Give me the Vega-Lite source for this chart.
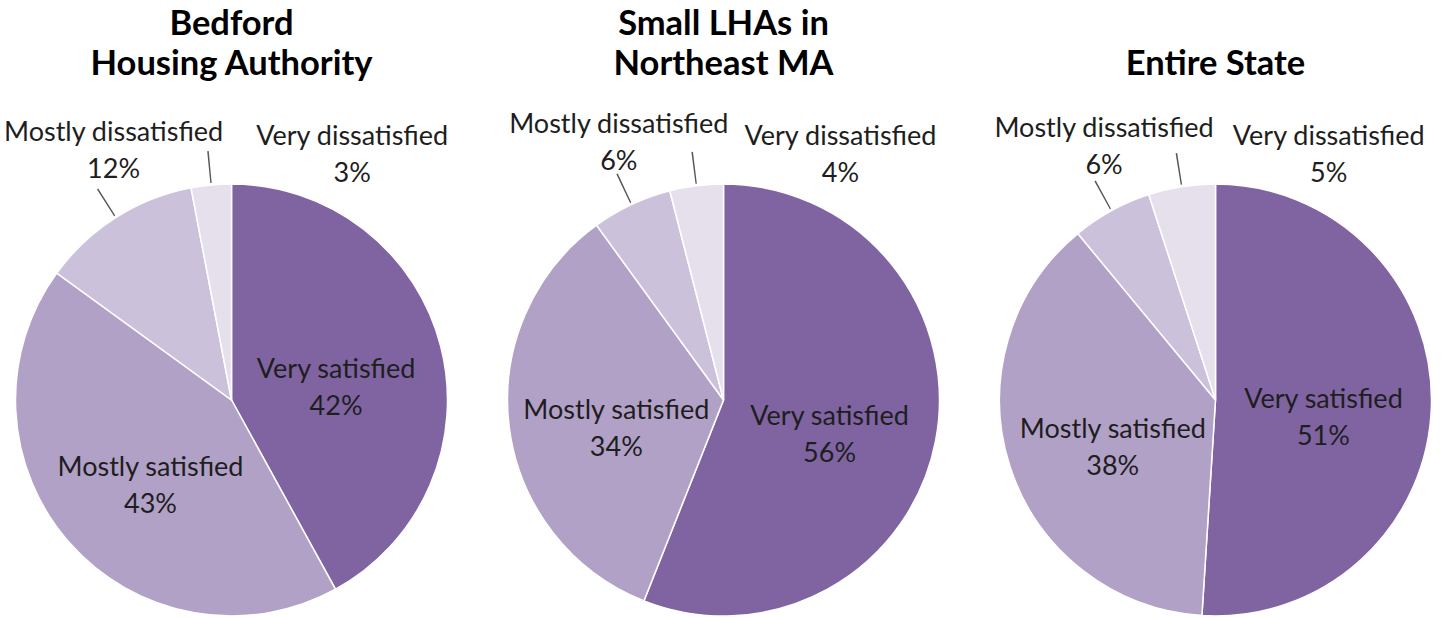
{
  "$schema": "https://vega.github.io/schema/vega-lite/v6.json",
  "padding": {"left": 3.5, "right": 0, "top": 6, "bottom": 0},
  "bounds": "flush",
  "spacing": 60,
  "background": "white",
  "config": {"view": {"stroke": null}},
  "data": {"values": [
    {"group": "Bedford|Housing Authority", "category": "Very satisfied", "idx": 1, "value": 42},
    {"group": "Bedford|Housing Authority", "category": "Mostly satisfied", "idx": 2, "value": 43},
    {"group": "Bedford|Housing Authority", "category": "Mostly dissatisfied", "idx": 3, "value": 12},
    {"group": "Bedford|Housing Authority", "category": "Very dissatisfied", "idx": 4, "value": 3},
    {"group": "Small LHAs in|Northeast MA", "category": "Very satisfied", "idx": 1, "value": 56},
    {"group": "Small LHAs in|Northeast MA", "category": "Mostly satisfied", "idx": 2, "value": 34},
    {"group": "Small LHAs in|Northeast MA", "category": "Mostly dissatisfied", "idx": 3, "value": 6},
    {"group": "Small LHAs in|Northeast MA", "category": "Very dissatisfied", "idx": 4, "value": 4},
    {"group": "Entire State", "category": "Very satisfied", "idx": 1, "value": 51},
    {"group": "Entire State", "category": "Mostly satisfied", "idx": 2, "value": 38},
    {"group": "Entire State", "category": "Mostly dissatisfied", "idx": 3, "value": 6},
    {"group": "Entire State", "category": "Very dissatisfied", "idx": 4, "value": 5}
  ]},
  "transform": [
    {"window": [{"op": "sum", "field": "value", "as": "cum"}], "groupby": ["group"], "sort": [{"field": "idx"}], "frame": [null, 0]},
    {"calculate": "datum.cum - datum.value", "as": "start"},
    {"calculate": "datum.cum - datum.value / 2", "as": "mid"},
    {"calculate": "datum.mid - 0.05", "as": "lead1"},
    {"calculate": "datum.mid + 0.05", "as": "lead2"},
    {"calculate": "[datum.category, datum.value + '%']", "as": "label"}
  ],
  "facet": {
    "column": {
      "field": "group",
      "type": "nominal",
      "sort": ["Bedford|Housing Authority", "Small LHAs in|Northeast MA", "Entire State"],
      "title": null,
      "header": {
        "labelExpr": "split(datum.value, '|')",
        "labelFont": "Lato",
        "labelFontSize": 34.5,
        "labelFontWeight": "bold",
        "labelColor": "#000000",
        "labelLineHeight": 40,
        "labelBaseline": "bottom",
        "labelPadding": 68
      }
    }
  },
  "spec": {
    "width": 432,
    "height": 432,
    "layer": [
      {
        "mark": {"type": "arc", "outerRadius": 216, "stroke": "white", "strokeWidth": 1.5},
        "encoding": {
          "theta": {"field": "start", "type": "quantitative", "stack": null, "scale": {"domain": [0, 100]}},
          "theta2": {"field": "cum"},
          "color": {
            "field": "category", "type": "nominal", "legend": null,
            "scale": {
              "domain": ["Very satisfied", "Mostly satisfied", "Mostly dissatisfied", "Very dissatisfied"],
              "range": ["#8064A2", "#B2A1C7", "#CCC1DA", "#E5E0EC"]
            }
          }
        }
      },
      {
        "transform": [{"filter": "datum.idx <= 2"}],
        "mark": {"type": "text", "font": "Lato", "fontSize": 27, "color": "#1e1e1e", "lineHeight": 37, "baseline": "middle", "align": "center", "dy": -3},
        "encoding": {
          "theta": {"field": "mid", "type": "quantitative", "stack": null},
          "radius": {"value": 108},
          "text": {"field": "label"}
        }
      },
      {
        "transform": [{"filter": "datum.idx == 3"}],
        "mark": {"type": "text", "font": "Lato", "fontSize": 27, "color": "#1e1e1e", "lineHeight": 37, "baseline": "middle", "align": "center", "dx": -53.6, "dy": -166},
        "encoding": {
          "theta": {"field": "mid", "type": "quantitative", "stack": null},
          "radius": {"value": 120},
          "text": {"field": "label"}
        }
      },
      {
        "transform": [{"filter": "datum.idx == 4"}],
        "mark": {"type": "text", "font": "Lato", "fontSize": 27, "color": "#1e1e1e", "lineHeight": 37, "baseline": "middle", "align": "center", "dx": 132, "dy": -144},
        "encoding": {
          "theta": {"field": "mid", "type": "quantitative", "stack": null},
          "radius": {"value": 120},
          "text": {"field": "label"}
        }
      },
      {
        "transform": [{"filter": "datum.idx >= 3"}],
        "mark": {"type": "arc", "innerRadius": 218, "outerRadius": 250, "color": "#595959"},
        "encoding": {
          "theta": {"field": "lead1", "type": "quantitative", "stack": null},
          "theta2": {"field": "lead2"}
        }
      }
    ]
  }
}
